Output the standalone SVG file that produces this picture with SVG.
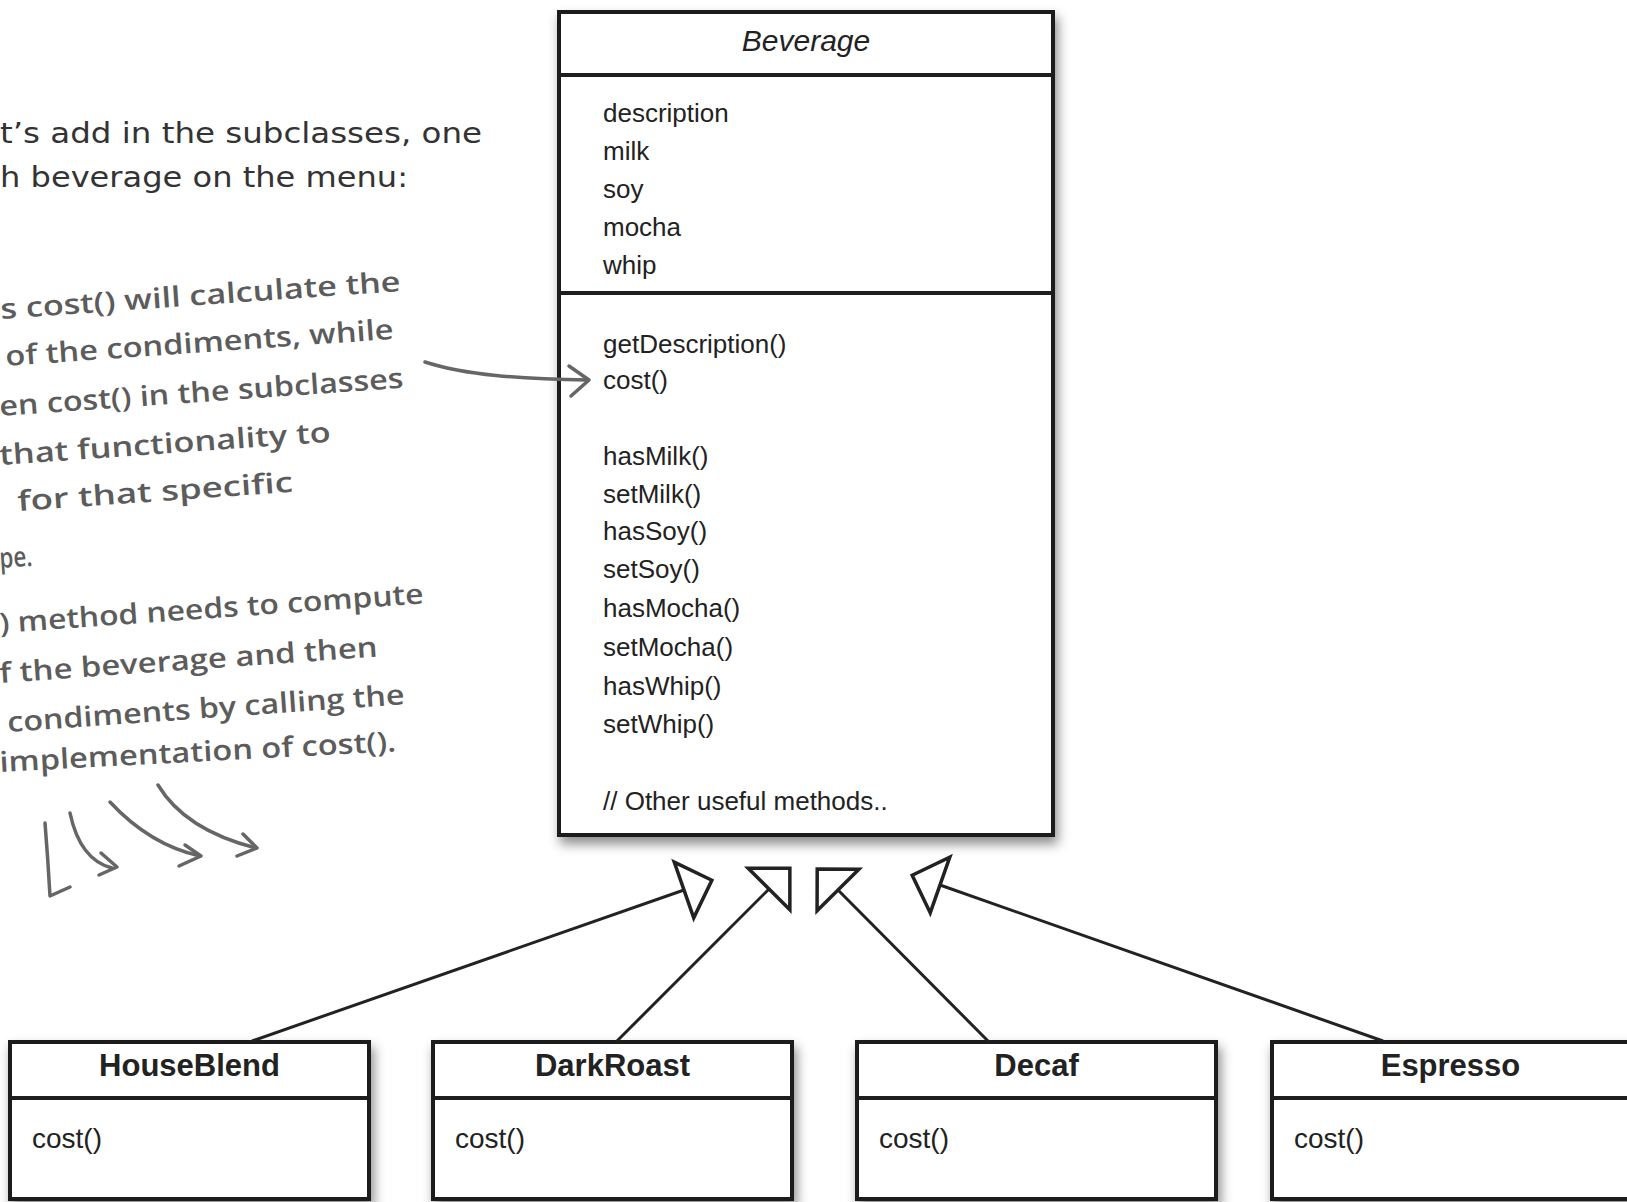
<svg xmlns="http://www.w3.org/2000/svg" width="1627" height="1202" viewBox="0 0 1627 1202">
<defs>
  <filter id="shadow" x="-10%" y="-10%" width="130%" height="130%">
    <feDropShadow dx="3" dy="7" stdDeviation="6" flood-color="#000" flood-opacity="0.45"/>
  </filter>
  <marker id="gen" markerUnits="userSpaceOnUse" viewBox="-4 -34 40 68" markerWidth="40" markerHeight="68" refX="0" refY="0" orient="auto" overflow="visible">
    <path d="M0,-29.5 L29.5,0 L0,29.5 Z" fill="#fff" stroke="#222" stroke-width="3.5" stroke-linejoin="miter"/>
  </marker>
</defs>
<style>
.box{fill:#fff;stroke:#1e1e1e;stroke-width:4}
.div{stroke:#1e1e1e;stroke-width:4}
.uml{font-family:"Liberation Sans",Arial,sans-serif;fill:#222}
.attr{font-size:26px}
.title{font-size:31px;font-weight:bold;text-anchor:middle}
.sub{font-size:28px}
.conn{stroke:#222;stroke-width:3;fill:none}
.note{font-family:"Open Sans",sans-serif;fill:#5c5c5c;font-size:28px;font-weight:600}
.intro{font-family:"DejaVu Sans",sans-serif;fill:#333;font-size:28px}
.hand{fill:none;stroke:#666;stroke-width:3.5;stroke-linecap:round;stroke-linejoin:round}
</style>
<rect width="1627" height="1202" fill="#fff"/>

<g id="intro">
  <text class="intro" x="0" y="143" textLength="482" lengthAdjust="spacingAndGlyphs">t’s add in the subclasses, one</text>
  <text class="intro" x="0" y="187" textLength="408" lengthAdjust="spacingAndGlyphs">h beverage on the menu:</text>
</g>

<g id="beverage">
  <rect class="box" x="559" y="12" width="494" height="823" filter="url(#shadow)"/>
  <line class="div" x1="559" y1="75" x2="1053" y2="75"/>
  <line class="div" x1="559" y1="293" x2="1053" y2="293"/>
  <text class="uml" x="806" y="51" font-size="30" font-style="italic" text-anchor="middle">Beverage</text>
  <g class="uml attr">
    <text x="603" y="122">description</text>
    <text x="603" y="160">milk</text>
    <text x="603" y="198">soy</text>
    <text x="603" y="236">mocha</text>
    <text x="603" y="274">whip</text>
    <text x="603" y="353">getDescription()</text>
    <text x="603" y="389">cost()</text>
    <text x="603" y="465">hasMilk()</text>
    <text x="603" y="503">setMilk()</text>
    <text x="603" y="540">hasSoy()</text>
    <text x="603" y="578">setSoy()</text>
    <text x="603" y="617">hasMocha()</text>
    <text x="603" y="656">setMocha()</text>
    <text x="603" y="695">hasWhip()</text>
    <text x="603" y="733">setWhip()</text>
    <text x="603" y="810">// Other useful methods..</text>
  </g>
</g>

<g id="note">
  <text class="note" x="1" y="319" transform="rotate(-4 1 319)" textLength="401" lengthAdjust="spacingAndGlyphs">s cost() will calculate the</text>
  <text class="note" x="6" y="366" transform="rotate(-4 6 366)" textLength="389" lengthAdjust="spacingAndGlyphs">of the condiments, while</text>
  <text class="note" x="0" y="416" transform="rotate(-4 0 416)" textLength="405" lengthAdjust="spacingAndGlyphs">en cost() in the subclasses</text>
  <text class="note" x="0" y="465" transform="rotate(-4 0 465)" textLength="332" lengthAdjust="spacingAndGlyphs">that functionality to</text>
  <text class="note" x="18" y="511" transform="rotate(-4 18 511)" textLength="276" lengthAdjust="spacingAndGlyphs">for that specific</text>
  <text class="note" x="0" y="568" transform="rotate(-4 0 568)" textLength="33" lengthAdjust="spacingAndGlyphs">pe.</text>
  <text class="note" x="0" y="633" transform="rotate(-4 0 633)" textLength="425" lengthAdjust="spacingAndGlyphs">) method needs to compute</text>
  <text class="note" x="0" y="683" transform="rotate(-4 0 683)" textLength="379" lengthAdjust="spacingAndGlyphs">f the beverage and then</text>
  <text class="note" x="8" y="732" transform="rotate(-4 8 732)" textLength="398" lengthAdjust="spacingAndGlyphs">condiments by calling the</text>
  <text class="note" x="0" y="772" transform="rotate(-3 0 772)" textLength="397" lengthAdjust="spacingAndGlyphs">implementation of cost().</text>
  <path class="hand" d="M425,362 C465,375 520,379 588,380"/>
  <path class="hand" d="M569,366 L589,380 L571,396"/>
  <path class="hand" d="M45,823 Q48,860 50,896 L70,887"/>
  <path class="hand" d="M70,813 Q80,860 112,868"/>
  <path class="hand" d="M101,853 L117,867 L99,875"/>
  <path class="hand" d="M110,802 Q150,845 200,856"/>
  <path class="hand" d="M185,845 L201,856 L179,866"/>
  <path class="hand" d="M158,785 Q185,830 256,848"/>
  <path class="hand" d="M243,834 L257,848 L237,856"/>
</g>

<g id="houseblend">
  <rect class="box" x="10" y="1042" width="359" height="157" filter="url(#shadow)"/>
  <line class="div" x1="10" y1="1098" x2="369" y2="1098"/>
  <text class="uml title" x="189.5" y="1076">HouseBlend</text>
  <text class="uml sub" x="32" y="1148">cost()</text>
</g>
<g id="darkroast">
  <rect class="box" x="433" y="1042" width="359" height="157" filter="url(#shadow)"/>
  <line class="div" x1="433" y1="1098" x2="792" y2="1098"/>
  <text class="uml title" x="612.5" y="1076">DarkRoast</text>
  <text class="uml sub" x="455" y="1148">cost()</text>
</g>
<g id="decaf">
  <rect class="box" x="857" y="1042" width="359" height="157" filter="url(#shadow)"/>
  <line class="div" x1="857" y1="1098" x2="1216" y2="1098"/>
  <text class="uml title" x="1036.5" y="1076">Decaf</text>
  <text class="uml sub" x="879" y="1148">cost()</text>
</g>
<g id="espresso">
  <rect class="box" x="1272" y="1042" width="359" height="157" filter="url(#shadow)"/>
  <line class="div" x1="1272" y1="1098" x2="1631" y2="1098"/>
  <text class="uml title" x="1450.5" y="1076">Espresso</text>
  <text class="uml sub" x="1294" y="1148">cost()</text>
</g>

<g id="connectors">
  <line class="conn" x1="252" y1="1041" x2="684" y2="890" marker-end="url(#gen)"/>
  <line class="conn" x1="617" y1="1041" x2="769" y2="889" marker-end="url(#gen)"/>
  <line class="conn" x1="988" y1="1041" x2="838" y2="890" marker-end="url(#gen)"/>
  <line class="conn" x1="1383" y1="1041" x2="940" y2="885" marker-end="url(#gen)"/>
</g>
</svg>
